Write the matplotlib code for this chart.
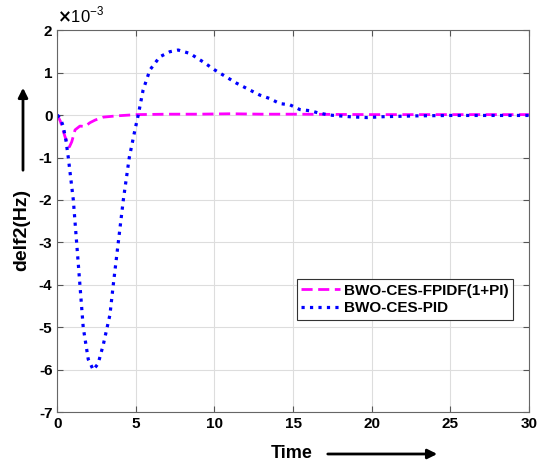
import numpy as np
import matplotlib
matplotlib.use('agg')
import matplotlib.pyplot as plt
from matplotlib.patches import FancyArrowPatch

plt.rcParams['font.family'] = ['Liberation Sans', 'DejaVu Sans']
plt.rcParams['font.weight'] = 'bold'
plt.rcParams['axes.unicode_minus'] = False

# BWO-CES-PID response (values in 1e-3 Hz)
t_pid = [0, 0.2, 0.38, 0.55, 0.7, 0.86, 1.02, 1.23, 1.44, 1.65, 1.97, 2.29,
         2.6, 2.93, 3.35, 3.56, 3.88, 4.2, 4.58, 4.94, 5.15, 5.46, 5.89,
         6.52, 7.16, 7.69, 8.43, 9.28, 10.02, 11.4, 12.24, 12.88, 13.5,
         14.15, 14.8, 15.42, 16.1, 16.6, 17.3, 18.6, 19.7, 20.7, 22.8,
         25, 27.5, 30]
d_pid = [0, -0.08, -0.27, -0.6, -1.0, -1.5, -2.0, -3.0, -4.0, -5.0, -5.75,
         -6.0, -5.85, -5.4, -4.7, -4.0, -3.0, -2.0, -1.0, -0.35, 0, 0.59,
         1.06, 1.37, 1.49, 1.53, 1.45, 1.25, 1.06, 0.75, 0.59, 0.47, 0.39,
         0.27, 0.24, 0.13, 0.1, 0.05, 0, -0.04, -0.06, -0.04, -0.02,
         -0.01, -0.01, -0.01]

# BWO-CES-FPIDF(1+PI) response (values in 1e-3 Hz)
t_fp = [0, 0.2, 0.49, 0.77, 0.92, 1.13, 1.44, 1.76, 2.08, 2.4, 2.92, 3.77,
        5.04, 7, 9, 11, 13, 15, 20, 25, 30]
d_fp = [0, -0.15, -0.51, -0.75, -0.63, -0.35, -0.26, -0.27, -0.18, -0.12,
        -0.05, -0.02, 0.01, 0.02, 0.02, 0.03, 0.02, 0.02, 0.01, 0.01, 0.01]

x_ticks = [0, 5, 10, 15, 20, 25, 30]
y_ticks = [-7, -6, -5, -4, -3, -2, -1, 0, 1, 2]

fig = plt.figure(figsize=(5.43, 4.66), dpi=100)
ax = fig.add_axes([0.1055, 0.115, 0.8685, 0.8205])

# plotted in units of 1e-3 Hz, scale shown as the x10^-3 label
ax.plot(t_fp, d_fp, '--', color='#FF00FF', lw=2,
        dashes=(4, 2), label='BWO-CES-FPIDF(1+PI)')
ax.plot(t_pid, d_pid, ':', color='#0000FF', lw=2.3,
        label='BWO-CES-PID')

ax.set_xlim(0, 30)
ax.set_ylim(-7, 2)
ax.set_xticks(x_ticks)
ax.set_yticks(y_ticks)
ax.set_xticklabels([str(v) for v in x_ticks])
ax.set_yticklabels([str(v) for v in y_ticks])
ax.text(0.0, 1.012, r'$\times$10$^{\mathregular{-3}}$', transform=ax.transAxes,
        ha='left', va='bottom', fontsize=12, fontweight='normal')
ax.tick_params(direction='in', top=True, right=True, labelsize=11,
               length=4, color='#555555')
ax.grid(True, color='#dddddd', lw=0.8)
for s in ax.spines.values():
    s.set_color('#666666')

leg = ax.legend(loc='upper left', bbox_to_anchor=(0.508, 0.349),
                borderaxespad=0, fontsize=11, handlelength=2.5,
                fancybox=False, framealpha=1, edgecolor='#333333',
                borderpad=0.3, labelspacing=0.25, handletextpad=0.3)
leg.get_frame().set_linewidth(0.8)

# axis labels with arrows
fig.text(22 / 543, 1 - 230 / 466, 'delf2(Hz)', rotation=90, ha='center',
         va='center', fontsize=14, fontweight='bold')
fig.add_artist(FancyArrowPatch(
    (23 / 543, 1 - 173 / 466), (23 / 543, 1 - 85 / 466),
    transform=fig.transFigure, arrowstyle='-|>', mutation_scale=14,
    lw=2, color='black'))
fig.text(292 / 543, 1 - 454 / 466, 'Time', ha='center', va='center',
         fontsize=13, fontweight='bold')
fig.add_artist(FancyArrowPatch(
    (325 / 543, 1 - 454 / 466), (440 / 543, 1 - 454 / 466),
    transform=fig.transFigure, arrowstyle='-|>', mutation_scale=14,
    lw=2, color='black'))

fig.savefig('out.png', dpi=100, facecolor='white')
